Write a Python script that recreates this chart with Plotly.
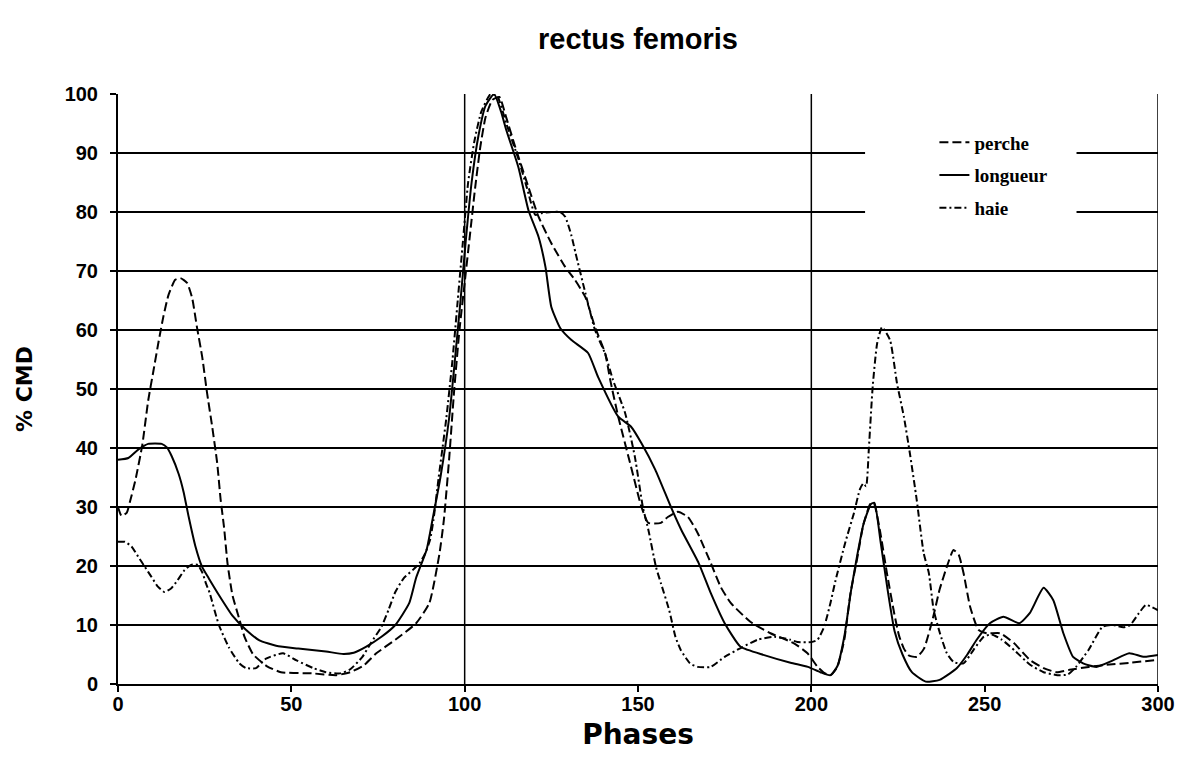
import plotly.graph_objects as go

# Phase positions and %CMD values for each discipline
perche_x = [0, 1, 2.5, 3.5, 5, 7, 8.7, 10.2, 11.7, 13.1, 14.6, 16.5, 18, 19.9, 21.4, 22.8, 24.3,
            25.7, 27.2, 28.6, 29.6, 30.6, 31.6, 33, 35, 36.5, 39, 43, 47, 56, 63, 67, 71, 74.5,
            80, 86, 89.8, 92.7, 94, 95.5, 97, 98.5, 100, 101.5, 103, 104.5, 106, 108, 110, 112,
            114.6, 118.4, 121.3, 125, 129, 131.8, 134.8, 137.6, 140.5, 142, 144.3, 148, 151, 153,
            156.6, 158.6, 161.5, 164.4, 167.2, 171, 173.9, 176.8, 182.5, 188.2, 195, 198.9, 201.8,
            203.7, 205.5, 207.5, 209.5, 211.3, 213.3, 215, 217, 218, 219.8, 221.8, 223.9, 225.3,
            226.7, 228.2, 230.5, 232.5, 235, 237, 239.1, 241, 242.5, 243.9, 245.8, 248.2, 250.6,
            254.5, 258.5, 263, 267, 270.7, 274.5, 280, 286, 292, 300]
perche_y = [30, 28.5, 29, 31, 34.5, 40.5, 48, 53, 58, 62.3, 66, 68.5, 68.8, 68, 65.4, 60.4, 55.4,
            49.3, 43.5, 37.5, 31.3, 26.5, 20.4, 15.1, 11, 8, 5, 3, 2, 1.8, 1.5, 2, 3.2, 5.2,
            7.5, 10.3, 13.7, 22, 27.8, 38, 50, 60, 68, 76, 84, 91, 96, 99, 99.5, 96,
            91, 84.2, 79.2, 74.7, 70.7, 68.5, 65.6, 60.5, 56.1, 51.5, 45.3, 36.8, 30, 27.3,
            27.3, 28.3, 29.2, 28.3, 25.6, 20.5, 16.4, 13.7, 10.5, 8.6, 6.9, 5.2, 2.9,
            1.9, 1.5, 2.9, 7.5, 15.4, 21.5, 27, 30.5, 30.7, 26, 18.8, 12, 8.2,
            6, 4.8, 4.6, 6, 11, 16, 19.9, 22.7, 21.9, 18.8, 13.1, 9.2, 8.6,
            8.6, 6.9, 4.1, 2.7, 2, 2.4, 2.9, 3.3, 3.6, 4.1]

longueur_x = [0, 3, 6, 8.7, 12.6, 14.1, 15.5, 17.5, 18.9, 20.4, 22.3, 24.3, 26.2, 29.1, 33, 36.9,
              40.8, 45.6, 52, 60, 65, 68, 71.5, 76, 80, 84, 86, 89, 90.7, 93, 95.5, 97.2, 98.8,
              100.3, 102, 104, 106, 108.5, 110.5, 112, 115.5, 118.4, 121.3, 123.3, 125, 127.6,
              130.8, 135.6, 138.5, 144.3, 148, 151, 155, 159.5, 162.5, 167.5, 171, 175, 179.6,
              186.4, 194, 199, 202.6, 205.5, 207.5, 209.5, 211.5, 213.3, 215, 217.2, 218.2, 220,
              222, 224, 226.3, 229, 233, 237, 240, 242, 245, 247.7, 251.5, 255.4, 260, 263, 267,
              269.8, 272.7, 275.5, 278.4, 282.2, 287, 291.7, 296, 300]
longueur_y = [38, 38.3, 39.8, 40.7, 40.7, 40.1, 38.6, 35.6, 32.6, 28.3, 23.4, 19.8, 17.9, 15.1, 11.6, 9.2,
              7.4, 6.5, 6, 5.5, 5.1, 5.3, 6.3, 8, 10, 13.7, 18, 22.7, 27.8, 35, 45, 55, 65,
              75, 85, 93, 98, 100, 97, 93.9, 87.6, 80.3, 75.8, 70.7, 63.9, 60.3,
              58.3, 56.1, 52, 45.3, 43.6, 40.8, 36.3, 30, 26.1, 20.5, 15.4, 10.3, 6.3,
              4.9, 3.6, 2.9, 2, 1.5, 3, 8, 16, 22, 27, 30.5, 30.7, 24,
              16, 9, 5, 2, 0.4, 0.7, 1.8, 2.7, 5, 7.5, 10.3, 11.4, 10.3, 12, 16.3,
              14.2, 8.6, 4.6, 3.5, 2.9, 4, 5.2, 4.6, 4.9]

haie_x = [0, 2, 3.9, 5.8, 7.7, 9.6, 11.5, 13.4, 15.3, 17.2, 19.2, 21.1, 23, 24.4, 25.4, 26.4,
          29.1, 32, 35, 36.9, 39.8, 42.7, 47.6, 51.5, 56.3, 60, 64, 67, 70.5, 73, 76, 78, 80,
          82.5, 85, 87, 88.5, 90, 91, 92.5, 94.7, 96.5, 98, 99.5, 101, 102.8, 104.8, 107.5,
          109.5, 112, 115.5, 118, 120.4, 122, 125, 127.5, 129, 130.8, 132, 134.8, 137.6, 140.5,
          142.8, 146.3, 149.1, 151.4, 153, 155.2, 156.6, 159, 160.8, 162.3, 165, 167.2, 171,
          175, 179.6, 184.5, 189.3, 194, 196, 200, 201.8, 203.7, 205.5, 207, 209.8, 212.3, 214,
          215, 215.8, 216.6, 217.7, 219, 220.4, 222.7, 224.7, 226.7, 228.4, 230.4, 232.4, 233.9,
          235.3, 237.1, 239.1, 241.1, 243.9, 246.8, 249.7, 252, 255, 259, 263, 267, 271, 274,
          276.5, 280, 284, 287, 290, 292, 294.5, 296.5, 300]
haie_y = [24.1, 24.1, 23.3, 21.6, 19.9, 18.2, 16.5, 15.6, 16.2, 17.6, 19.3, 20.2, 20.2, 18.8, 17, 15.5,
          10, 6.2, 3.5, 2.7, 2.7, 4.3, 5.2, 4, 2.7, 2, 1.8, 2.5, 4.6, 7, 9.7, 12.5, 15.6,
          18, 19.3, 20.5, 22, 24.4, 27.8, 35, 45, 55, 65, 75, 85, 92, 97, 100,
          99.5, 95, 89, 84, 79.5, 79.8, 80, 80, 79.2, 76, 73, 66.3, 60, 56,
          51.5, 45.9, 38.5, 30, 26.1, 19.8, 17.1, 12.5, 8, 5.8, 3.5, 2.9, 2.9,
          4.6, 6.1, 7.5, 8, 7.5, 7.1, 7.1, 7.5, 9.7, 13.7, 17.6, 24, 29, 33,
          34, 33.5, 40, 50.4, 57.8, 60.5, 58.3, 51, 45.3, 39.2, 31.2, 22.2, 18.8,
          12.5, 8.6, 5.2, 3.7, 3.5, 5.8, 8, 8.4, 7.5, 5.5, 3.3, 2, 1.5, 1.6,
          3, 5.8, 9.7, 10, 9.6, 10, 12, 13.4, 12.5]

x_ticks = [0, 50, 100, 150, 200, 250, 300]
y_ticks = [0, 10, 20, 30, 40, 50, 60, 70, 80, 90, 100]
section_bounds = [100, 200, 300]

fig = go.Figure()
series = [
    ("perche", perche_x, perche_y, "9px,4px"),
    ("longueur", longueur_x, longueur_y, "solid"),
    ("haie", haie_x, haie_y, "7px,3px,2px,3px"),
]
for name, xs, ys, dash in series:
    fig.add_trace(go.Scatter(
        x=xs, y=ys, mode="lines", name=name, legendgroup=name,
        line=dict(color="black", width=2, dash=dash, shape="spline", smoothing=0.5),
    ))

# vertical separators between the three phase blocks
for xb in section_bounds:
    fig.add_shape(type="line", xref="x", yref="paper", x0=xb, x1=xb, y0=0, y1=1,
                  line=dict(color="black", width=1.5), layer="below")

# white panel behind the legend, hiding the gridlines there
fig.add_shape(type="rect", xref="x", yref="y", x0=215.5, x1=276.5, y0=77.6, y1=95,
              fillcolor="white", line=dict(width=0), layer="between")

tick_font = dict(family="Liberation Sans", size=20, color="black", weight="bold")

fig.update_layout(
    width=1187, height=771,
    margin=dict(l=118, r=25, t=94, b=87),
    paper_bgcolor="white", plot_bgcolor="white",
    title=dict(text="rectus femoris", x=0.5, xref="paper", xanchor="center",
               y=0.95, yanchor="middle",
               font=dict(family="Liberation Sans", size=29, color="black", weight="bold")),
    xaxis=dict(range=[0, 300], tickvals=x_ticks, ticks="outside", ticklen=6, tickwidth=1.5,
               tickcolor="black", showgrid=False, zeroline=False, showline=True,
               linecolor="black", linewidth=2, tickfont=tick_font, ticklabelstandoff=-5,
               title=dict(text="Phases", standoff=10,
                          font=dict(family="DejaVu Sans", size=28, color="black", weight="bold"))),
    yaxis=dict(range=[0, 100], tickvals=y_ticks, ticks="outside", ticklen=6, tickwidth=1.5,
               tickcolor="black", showgrid=True, gridcolor="black", gridwidth=2,
               zeroline=False, showline=True, linecolor="black", linewidth=2, tickfont=tick_font,
               ticklabelstandoff=8,
               title=dict(text="% CMD", standoff=26,
                          font=dict(family="DejaVu Sans", size=22, color="black", weight="bold"))),
    legend=dict(x=0.785, y=0.95, xanchor="left", yanchor="top", bgcolor="rgba(0,0,0,0)",
                borderwidth=0, itemwidth=30, tracegroupgap=5,
                font=dict(family="Liberation Serif", size=19, color="black", weight="bold")),
)

fig.write_html("out.html")
